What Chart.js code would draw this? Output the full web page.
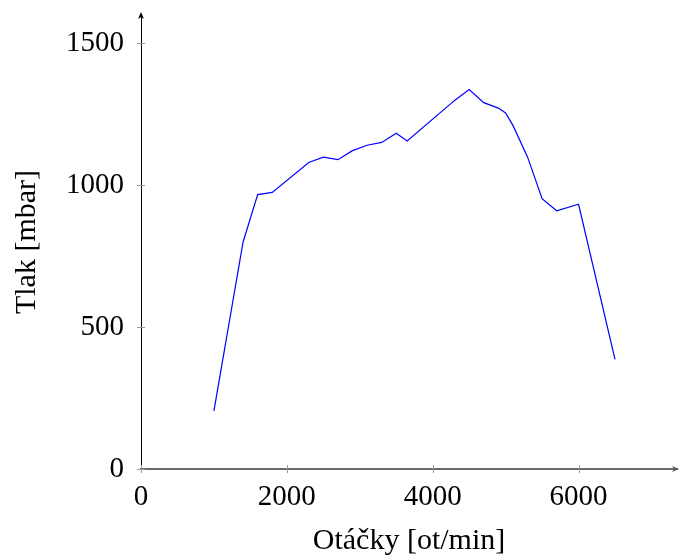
<!DOCTYPE html>
<html>
<head>
<meta charset="utf-8">
<script src="https://cdn.jsdelivr.net/npm/chart.js@4"></script>
<style>
    body { margin: 0; background: #fff; }
    #wrap { width: 680px; height: 556px; }
</style>
</head>
<body>
<div id="wrap"><canvas id="myChart"></canvas></div>
<script>
// engine speed (ot/min) and pressure (mbar)
const rpm = [1000, 1400, 1600, 1800, 2300, 2500, 2700, 2900, 3100, 3300, 3500, 3650,
             4300, 4500, 4700, 4900, 5000, 5100, 5300, 5500, 5700, 6000, 6500]
const pressure = [205, 800, 967, 975, 1080, 1099, 1090, 1122, 1141, 1151, 1183, 1156,
                  1299, 1337, 1291, 1272, 1255, 1211, 1100, 953, 910, 933, 386]
const xTicks = [0, 2000, 4000, 6000]
const yTicks = [0, 500, 1000, 1500]

const serif = "'Liberation Serif', 'DejaVu Serif', serif"

// pgfplots-like axes: ticks crossing the axis, arrows at the ends
const axisDecor = {
    id: "axisDecor",
    afterDraw(chart) {
        const ctx = chart.ctx
        const area = chart.chartArea
        const xs = chart.scales.x
        const ys = chart.scales.y
        ctx.save()
        ctx.strokeStyle = "#9a9a9a"
        ctx.lineWidth = 1
        xTicks.forEach(v => {
            const px = Math.round(xs.getPixelForValue(v)) + 0.5
            ctx.beginPath()
            ctx.moveTo(px, area.bottom - 4)
            ctx.lineTo(px, area.bottom + 4)
            ctx.stroke()
        })
        yTicks.forEach(v => {
            const py = Math.round(ys.getPixelForValue(v)) + 0.5
            ctx.beginPath()
            ctx.moveTo(area.left - 4, py)
            ctx.lineTo(area.left + 4, py)
            ctx.stroke()
        })
        // arrow heads
        ctx.fillStyle = "#000"
        const ax = area.left
        ctx.beginPath()
        ctx.moveTo(ax, area.top - 3)
        ctx.lineTo(ax - 3, area.top + 4)
        ctx.lineTo(ax, area.top + 2)
        ctx.lineTo(ax + 3, area.top + 4)
        ctx.closePath()
        ctx.fill()
        ctx.fillStyle = "#555"
        const ay = area.bottom
        ctx.beginPath()
        ctx.moveTo(area.right + 2, ay)
        ctx.lineTo(area.right - 5, ay - 3)
        ctx.lineTo(area.right - 3, ay)
        ctx.lineTo(area.right - 5, ay + 3)
        ctx.closePath()
        ctx.fill()
        ctx.restore()
    }
}

function createChart(){
    const ctx = document.getElementById("myChart")
    const points = rpm.map((r, i) => ({x: r, y: pressure[i]}))

    new Chart(ctx, {
        type: "line",
        data: {
            datasets: [{
                data: points,
                borderColor: "#0000ff",
                borderWidth: 1.2,
                pointRadius: 0,
                fill: false,
                tension: 0,
            }]
        },
        options: {
            responsive: true,
            maintainAspectRatio: false,
            animation: false,
            layout: { padding: 0 },
            scales: {
                x: {
                    type: "linear",
                    min: 0,
                    max: 7350,
                    afterBuildTicks: axis => { axis.ticks = xTicks.map(v => ({value: v})) },
                    afterFit: axis => {
                        axis.height = 87
                        axis.paddingLeft = 0
                        axis.paddingRight = 3
                    },
                    grid: { display: true, drawOnChartArea: false, drawTicks: false },
                    border: { display: true, color: "#6a6a6a", width: 2 },
                    ticks: {
                        padding: 11,
                        color: "#000",
                        maxRotation: 0,
                        callback: v => String(v),
                        font: { family: serif, size: 29 },
                    },
                    title: {
                        display: true,
                        text: "Otáčky [ot/min]",
                        color: "#000",
                        font: { family: serif, size: 30, lineHeight: 1 },
                        padding: { top: 0, bottom: 0 },
                    },
                },
                y: {
                    min: 0,
                    max: 1600,
                    afterBuildTicks: axis => { axis.ticks = yTicks.map(v => ({value: v})) },
                    afterFit: axis => {
                        axis.width = 141
                        axis.paddingTop = 15
                        axis.paddingBottom = 0
                    },
                    grid: { display: true, drawOnChartArea: false, drawTicks: false },
                    border: { display: true, color: "#000", width: 1 },
                    ticks: {
                        padding: 17,
                        color: "#000",
                        callback: v => String(v),
                        font: { family: serif, size: 29, lineHeight: 1 },
                    },
                    title: {
                        display: true,
                        text: "Tlak [mbar]",
                        color: "#000",
                        font: { family: serif, size: 30, lineHeight: 1 },
                        padding: { top: 12, bottom: 0 },
                    },
                },
            },
            plugins: {
                legend: { display: false },
                tooltip: { enabled: false },
            },
        },
        plugins: [axisDecor],
    })
}
createChart()
</script>
</body>
</html>
